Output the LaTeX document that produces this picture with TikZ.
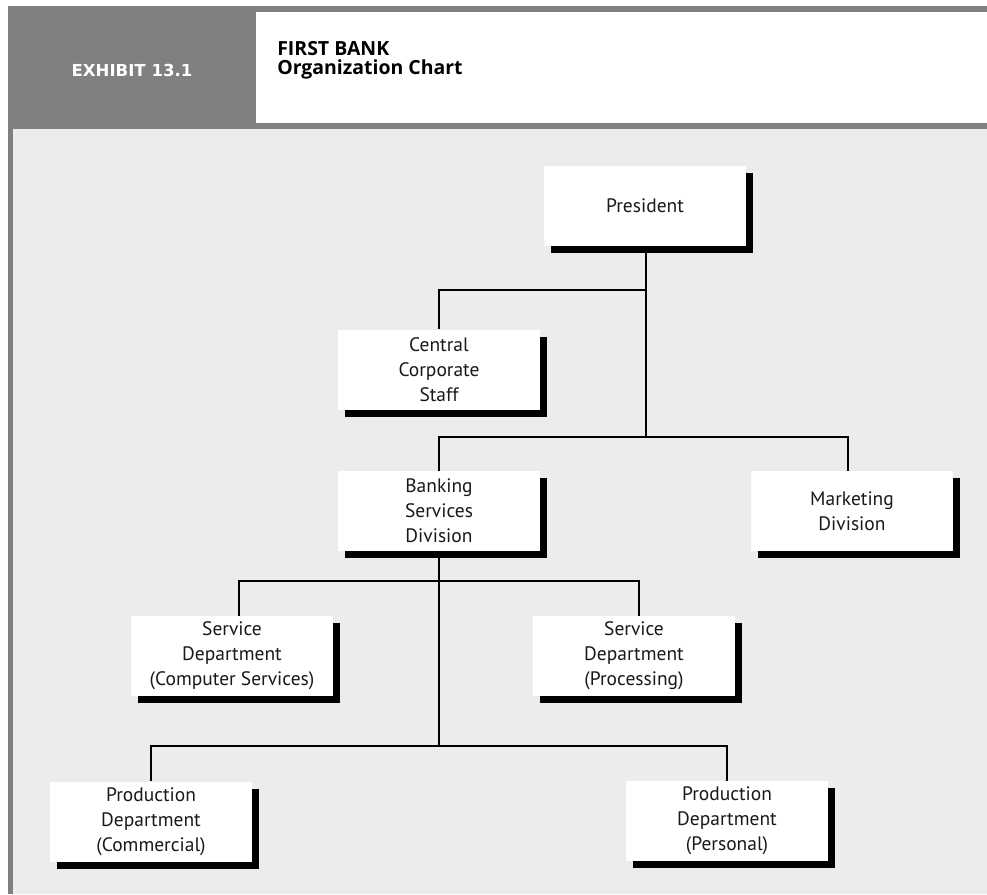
\documentclass[tikz,border=0pt]{standalone}
\usepackage{fontspec}
\setmainfont{PT Sans}
\newfontfamily\titlefont{Open Sans}
\newfontfamily\exfont{DejaVu Sans}
\usetikzlibrary{shadows}
\definecolor{framegray}{HTML}{808080}
\definecolor{panel}{HTML}{ECECEC}
\begin{document}
\begin{tikzpicture}[x=0.75pt,y=-0.75pt,
  orgbox/.style={fill=white, minimum width=151.5pt, minimum height=60pt, inner sep=0pt, align=center,
    font=\fontsize{14.6}{18.75}\selectfont, text=black!90,
    drop shadow={shadow xshift=5.25pt, shadow yshift=-5.25pt, opacity=1, fill=black}},
  conn/.style={line width=1.5pt, draw=black},
  titletext/.style={anchor=west, inner sep=0pt, align=left, font=\titlefont\bfseries\fontsize{14.6}{14.2}\selectfont}]
\useasboundingbox (0,0) rectangle (987,894);
% frame
\fill[white] (0,0) rectangle (987,894);
\fill[framegray] (8,6) rectangle (987,129);
\fill[white] (256,12) rectangle (987,123);
\fill[framegray] (8,129) rectangle (13,894);
\fill[panel] (13,129) rectangle (987,894);
% header text
\node[anchor=base, inner sep=0pt, text=white, font=\exfont\bfseries\fontsize{12.4}{14}\selectfont] (exh) at (132,76) {EXHIBIT 13.1};
\node[titletext] (title) at (277,60) {FIRST BANK\\Organization Chart};
% boxes
\node[orgbox] (pres) at (645,206) {President};
\node[orgbox] (ccs) at (439,369.5) {Central\\Corporate\\Staff};
\node[orgbox] (bsd) at (439,511) {Banking\\Services\\Division};
\node[orgbox] (mkt) at (852,511) {Marketing\\Division};
\node[orgbox] (sdc) at (232,656) {Service\\Department\\(Computer Services)};
\node[orgbox] (sdp) at (634,656) {Service\\Department\\(Processing)};
\node[orgbox] (pdc) at (151,821.5) {Production\\Department\\(Commercial)};
\node[orgbox] (pdp) at (727,821) {Production\\Department\\(Personal)};
% junction levels
\coordinate (j1) at (0,290);
\coordinate (j2) at (0,437);
\coordinate (j3) at (0,581);
\coordinate (j4) at (0,746);
% connectors
\draw[conn] ([xshift=0.75pt]pres.south) -- ([xshift=0.75pt]pres.south |- j2);
\draw[conn] (ccs.north) |- ([xshift=0.75pt]pres.south |- j1);
\draw[conn] (bsd.north) |- ([xshift=-3pt]mkt.north |- j2) -- ([xshift=-3pt]mkt.north);
\draw[conn] (bsd.south) -- (bsd.south |- j4);
\draw[conn] ([xshift=5.25pt]sdc.north) |- ([xshift=3.75pt]sdp.north |- j3) -- ([xshift=3.75pt]sdp.north);
\draw[conn] (pdc.north) |- (pdp.north |- j4) -- (pdp.north);
\end{tikzpicture}
\end{document}
